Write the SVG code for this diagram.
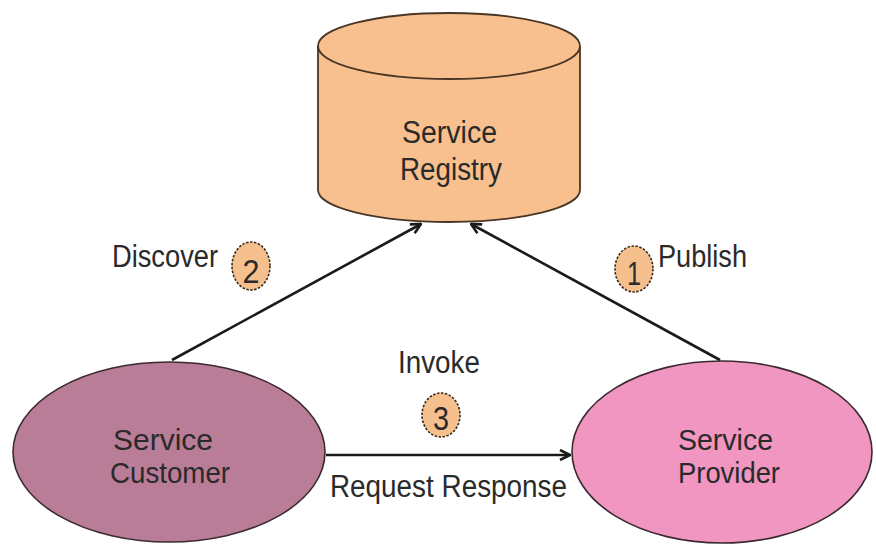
<svg xmlns="http://www.w3.org/2000/svg" width="876" height="544" viewBox="0 0 876 544">
  <style>
    .lbl { font-family: "Liberation Sans", Arial, sans-serif; font-size: 31px; fill: #2a2a2a; }
    .node-lbl { font-family: "Liberation Sans", Arial, sans-serif; font-size: 29px; fill: #2a2a2a; }
    .num { font-family: "Liberation Sans", Arial, sans-serif; font-size: 34px; fill: #2a2a2a; text-anchor: middle; }
    .badge { fill: #f5c08e; stroke: #3a2a1a; stroke-width: 1.6; stroke-dasharray: 2.5 1.5; }
    .edge { fill: none; stroke: #1a1a1a; stroke-width: 2.6; }
  </style>
  <defs>
    <marker id="open-arrow" viewBox="0 0 12 12" refX="11" refY="6" markerWidth="12" markerHeight="12" markerUnits="userSpaceOnUse" orient="auto">
      <path d="M1,1 L11,6 L1,11" fill="none" stroke="#1a1a1a" stroke-width="2.6"/>
    </marker>
  </defs>
  <rect width="876" height="544" fill="#ffffff"/>

  <!-- registry cylinder -->
  <g id="registry">
    <path d="M318,46 L318,190 A131,32 0 0 0 580,190 L580,46" fill="#f7c08e" stroke="#4a3626" stroke-width="1.8"/>
    <ellipse cx="449" cy="46" rx="131" ry="33" fill="#f7c08e" stroke="#4a3626" stroke-width="1.8"/>
    <text class="lbl" x="402" y="143" textLength="95" lengthAdjust="spacingAndGlyphs">Service</text>
    <text class="lbl" x="400" y="180" textLength="102" lengthAdjust="spacingAndGlyphs">Registry</text>
  </g>

  <!-- consumer -->
  <g id="customer">
    <ellipse cx="169" cy="452" rx="156" ry="90" fill="#b97d98" stroke="#3a2a30" stroke-width="1.6"/>
    <text class="node-lbl" x="113" y="450" textLength="100" lengthAdjust="spacingAndGlyphs">Service</text>
    <text class="node-lbl" x="110" y="483" textLength="120" lengthAdjust="spacingAndGlyphs">Customer</text>
  </g>

  <!-- provider -->
  <g id="provider">
    <ellipse cx="722" cy="452" rx="150" ry="91" fill="#f096c0" stroke="#3a2a30" stroke-width="1.6"/>
    <text class="node-lbl" x="678" y="450" textLength="95" lengthAdjust="spacingAndGlyphs">Service</text>
    <text class="node-lbl" x="678" y="483" textLength="102" lengthAdjust="spacingAndGlyphs">Provider</text>
  </g>

  <!-- connectors -->
  <g id="connectors">
    <line class="edge" x1="172" y1="360" x2="421" y2="224" marker-end="url(#open-arrow)"/>
    <line class="edge" x1="720" y1="360" x2="471" y2="224" marker-end="url(#open-arrow)"/>
    <line class="edge" x1="326" y1="455" x2="570" y2="455" marker-end="url(#open-arrow)"/>
  </g>

  <!-- step labels -->
  <g id="step-discover">
    <text class="lbl" x="112" y="267" textLength="106" lengthAdjust="spacingAndGlyphs">Discover</text>
    <ellipse class="badge" cx="251" cy="266" rx="19" ry="24"/>
    <text class="num" x="251" y="283" textLength="17" lengthAdjust="spacingAndGlyphs">2</text>
  </g>
  <g id="step-publish">
    <ellipse class="badge" cx="634" cy="269" rx="19" ry="23"/>
    <text class="num" x="634" y="285" textLength="14" lengthAdjust="spacingAndGlyphs">1</text>
    <text class="lbl" x="658" y="267" textLength="89" lengthAdjust="spacingAndGlyphs">Publish</text>
  </g>
  <g id="step-invoke">
    <text class="lbl" x="398" y="373" textLength="82" lengthAdjust="spacingAndGlyphs">Invoke</text>
    <ellipse class="badge" cx="441" cy="415" rx="19" ry="22"/>
    <text class="num" x="441" y="430" textLength="16" lengthAdjust="spacingAndGlyphs">3</text>
    <text class="lbl" x="330" y="497" textLength="237" lengthAdjust="spacingAndGlyphs">Request Response</text>
  </g>
</svg>
